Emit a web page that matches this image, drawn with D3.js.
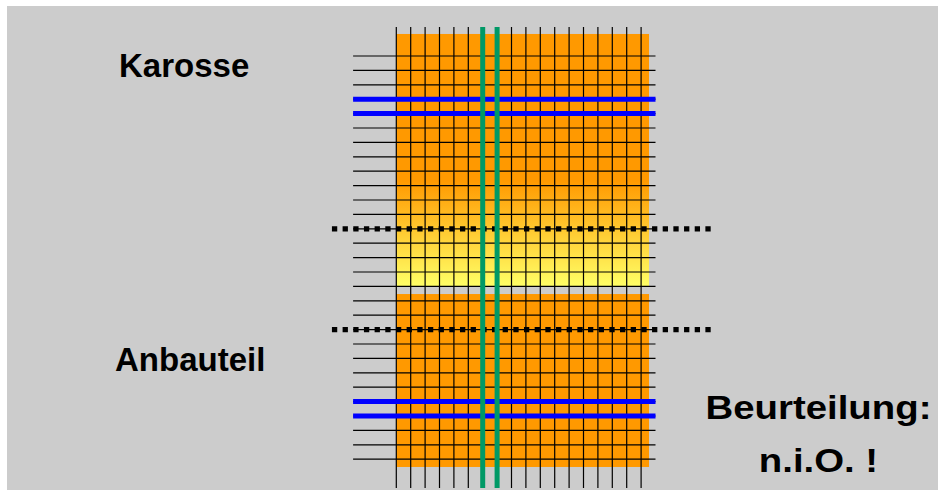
<!DOCTYPE html>
<html>
<head>
<meta charset="utf-8">
<script src="https://cdn.jsdelivr.net/npm/d3@7"></script>
<style>
  html, body { margin: 0; padding: 0; background: #fff; }
  svg { display: block; }
  text { font-family: "Liberation Sans", Arial, sans-serif; font-weight: bold; fill: #000; }
</style>
</head>
<body>
<svg id="chart" width="938" height="490"></svg>
<script>
// Raster: Spalten- und Zeilenindizes (in Rastereinheiten)
const columns = d3.range(0, 18)          // 18 senkrechte Linien
const rows = d3.range(0, 29)             // 29 waagrechte Linien
const greenColumns = [6, 7]              // Schnittlinien (grün)
const blueRows = [3, 4, 24, 25]          // Kanten (blau)
const dottedRows = [12, 19]              // Fügezone (gepunktet)

// Flächen in Rastereinheiten: [x0, x1, y0, y1]
const blocks = [
  { name: "Karosse", ext: [0, 17.55, -1.53, 16.0], fill: "url(#grad)" },
  { name: "Anbauteil", ext: [0, 17.55, 16.53, 28.54], fill: "#ff9900" }
]
const colSpan = [-2.01, 30.0]   // Höhe der senkrechten Linien
const rowSpan = [-3.0, 18.0]    // Breite der waagrechten Linien
const dotSpan = [-4.47, 22.2]   // Breite der gepunkteten Linien

const labels = [
  { text: "Karosse", x: 119, y: 76.7 },
  { text: "Anbauteil", x: 115, y: 371 }
]
const verdict = ["Beurteilung:", "n.i.O. !"]

const svg = d3.select("#chart")

// Hintergrund
svg.append("rect").attr("x", 7).attr("y", 6).attr("width", 931).attr("height", 484).attr("fill", "#cccccc")

const x = d3.scaleLinear().domain([0, 17]).range([396.3, 641.1])
const y = d3.scaleLinear().domain([0, 28]).range([56, 459.2])

const defs = svg.append("defs")
const grad = defs.append("linearGradient").attr("id", "grad")
  .attr("x1", 0).attr("y1", 0).attr("x2", 0).attr("y2", 1)
grad.append("stop").attr("offset", "0.58").attr("stop-color", "#ff9900")
grad.append("stop").attr("offset", "1").attr("stop-color", "#ffff66")

svg.selectAll(".block").data(blocks).enter().append("rect")
  .attr("class", "block")
  .attr("x", d => x(d.ext[0]))
  .attr("y", d => y(d.ext[2]))
  .attr("width", d => x(d.ext[1]) - x(d.ext[0]))
  .attr("height", d => y(d.ext[3]) - y(d.ext[2]))
  .attr("fill", d => d.fill)

// Raster schwarz
svg.selectAll(".vline").data(columns).enter().append("line")
  .attr("class", "vline")
  .attr("x1", d => x(d)).attr("x2", d => x(d))
  .attr("y1", y(colSpan[0])).attr("y2", y(colSpan[1]))
  .attr("stroke", "#000").attr("stroke-width", 1.2)

svg.selectAll(".hline").data(rows).enter().append("line")
  .attr("class", "hline")
  .attr("x1", x(rowSpan[0])).attr("x2", x(rowSpan[1]))
  .attr("y1", d => y(d)).attr("y2", d => y(d))
  .attr("stroke", "#000").attr("stroke-width", 1.2)

// blaue Kanten
svg.selectAll(".blue").data(blueRows).enter().append("line")
  .attr("class", "blue")
  .attr("x1", x(rowSpan[0])).attr("x2", x(rowSpan[1]))
  .attr("y1", d => y(d)).attr("y2", d => y(d))
  .attr("stroke", "#0000ff").attr("stroke-width", 5)

// gepunktete Linien
svg.selectAll(".dot").data(dottedRows).enter().append("line")
  .attr("class", "dot")
  .attr("x1", x(dotSpan[0])).attr("x2", x(dotSpan[1]))
  .attr("y1", d => y(d)).attr("y2", d => y(d))
  .attr("stroke", "#000").attr("stroke-width", 5.3)
  .attr("stroke-dasharray", "5.3 5.37")

// grüne Schnittlinien
svg.selectAll(".green").data(greenColumns).enter().append("line")
  .attr("class", "green")
  .attr("x1", d => x(d)).attr("x2", d => x(d))
  .attr("y1", y(colSpan[0])).attr("y2", y(colSpan[1]))
  .attr("stroke", "#009966").attr("stroke-width", 5)

// Beschriftung
svg.selectAll(".label").data(labels).enter().append("text")
  .attr("class", "label")
  .attr("x", d => d.x).attr("y", d => d.y)
  .attr("font-size", 33)
  .text(d => d.text)

// Beurteilung: breit gezogene Schrift
svg.selectAll(".verdict").data(verdict).enter().append("text")
  .attr("class", "verdict")
  .attr("text-anchor", "middle")
  .attr("font-size", 33.5)
  .attr("transform", (d, i) => `translate(818.5,${i === 0 ? 419 : 472}) scale(1.145,1)`)
  .text(d => d)
</script>
</body>
</html>
